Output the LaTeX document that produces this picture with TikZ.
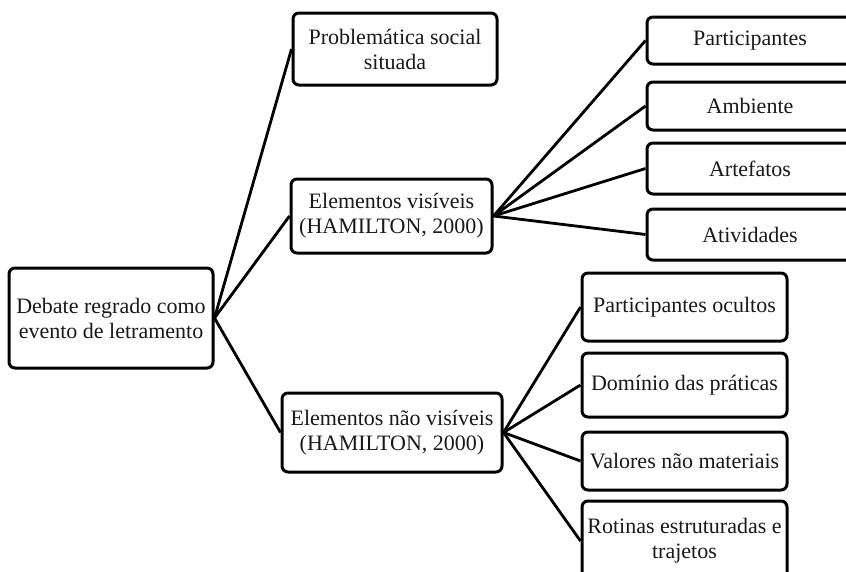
\documentclass[tikz,border=0pt]{standalone}
\usepackage{fontspec}
\setmainfont{Liberation Serif}
\begin{document}
\begin{tikzpicture}[x=1pt,y=-1pt,
  box/.style={draw=black, line width=3pt, rounded corners=6pt, fill=white,
    inner sep=0pt, align=center, text=black!90,
    font=\fontsize{22}{25}\selectfont},
  conn/.style={draw=black, line width=2.8pt}]
\useasboundingbox (0,0) rectangle (846,571);
\clip (0,0) rectangle (846,571);
\fill[white] (0,0) rectangle (846,571);
% root and middle column
\node[box, minimum width=204pt, minimum height=100pt] (root) at (111,318) {Debate regrado como\\evento de letramento};
\node[box, minimum width=204pt, minimum height=72pt] (prob) at (395,49) {Problemática social\\situada};
\node[box, minimum width=201pt, minimum height=74pt] (vis) at (391.5,216) {Elementos visíveis\\(HAMILTON, 2000)};
\node[box, minimum width=220pt, minimum height=79pt] (nvis) at (392,432.5) {Elementos não visíveis\\(HAMILTON, 2000)};
% upper right column
\node[box, minimum width=206pt, minimum height=47pt] (p1) at (750,40.5) {Participantes};
\node[box, minimum width=206pt, minimum height=48pt] (p2) at (750,106) {Ambiente};
\node[box, minimum width=206pt, minimum height=51pt] (p3) at (750,168.5) {Artefatos};
\node[box, minimum width=206pt, minimum height=51pt] (p4) at (750,234.5) {Atividades};
% lower right column
\node[box, minimum width=205pt, minimum height=68pt] (q1) at (684.5,307) {Participantes ocultos};
\node[box, minimum width=205pt, minimum height=64pt] (q2) at (684.5,385) {Domínio das práticas};
\node[box, minimum width=205pt, minimum height=58pt] (q3) at (684.5,461) {Valores não materiais};
\node[box, minimum width=205pt, minimum height=80pt] (q4) at (684.5,541) {Rotinas estruturadas e\\trajetos};
% connectors
\draw[conn] (root.east) -- (prob.west);
\draw[conn] (root.east) -- (vis.west);
\draw[conn] (root.east) -- (nvis.west);
\draw[conn] (vis.east) -- (p1.west);
\draw[conn] (vis.east) -- (p2.west);
\draw[conn] (vis.east) -- (p3.west);
\draw[conn] (vis.east) -- (p4.west);
\draw[conn] (nvis.east) -- (q1.west);
\draw[conn] (nvis.east) -- (q2.west);
\draw[conn] (nvis.east) -- (q3.west);
\draw[conn] (nvis.east) -- (q4.west);
\end{tikzpicture}
\end{document}
